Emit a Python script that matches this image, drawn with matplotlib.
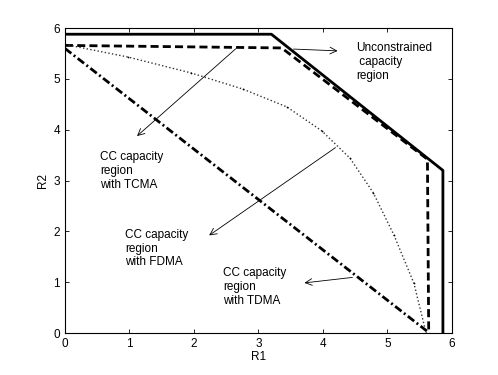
import matplotlib
matplotlib.use("Agg")
import matplotlib.pyplot as plt

plt.rcParams['font.family'] = ['Liberation Sans', 'DejaVu Sans']

# region boundaries
unc_r1 = [0, 3.2, 5.86, 5.86]
unc_r2 = [5.88, 5.88, 3.2, 0]

tcma_r1 = [0, 3.36, 5.62, 5.64]
tcma_r2 = [5.66, 5.61, 3.42, 0]

fdma_r1 = [0, 0.98, 1.95, 2.76, 3.44, 3.98, 4.42, 4.78, 5.1, 5.41, 5.6]
fdma_r2 = [5.68, 5.43, 5.12, 4.80, 4.45, 3.98, 3.44, 2.76, 1.93, 0.98, 0]

tdma_r1 = [0, 5.65]
tdma_r2 = [5.6, 0]

fig = plt.figure(figsize=(4.98, 3.75), dpi=100)
ax = fig.add_axes([0.1305, 0.112, 0.777, 0.813])

ax.plot(unc_r1, unc_r2, '-', color='black', lw=2.0)
ax.plot(tcma_r1, tcma_r2, '--', color='black', lw=2.0, dashes=(2.9, 1.5))
ax.plot(fdma_r1, fdma_r2, ':', color='#333333', lw=1.0,
        marker='.', markersize=2.5, markeredgewidth=0, markerfacecolor='black')
ax.plot(tdma_r1, tdma_r2, '-.', color='black', lw=2.0, dashes=(2.9, 1.1, 0.7, 1.1))

fs = 8.5
arrow = dict(arrowstyle='->', color='black', lw=0.6, mutation_scale=12)

ax.annotate('', xy=(4.27, 5.55), xytext=(3.5, 5.59), arrowprops=arrow)
ax.text(4.51, 5.72, 'Unconstrained\n capacity\nregion', fontsize=fs, va='top', ha='left')

ax.annotate('', xy=(1.085, 3.84), xytext=(2.68, 5.63), arrowprops=arrow)
ax.text(0.54, 3.58, 'CC capacity\nregion\nwith TCMA', fontsize=fs, va='top', ha='left')

ax.annotate('', xy=(2.2, 1.89), xytext=(4.23, 3.68), arrowprops=arrow)
ax.text(0.93, 2.05, 'CC capacity\nregion\nwith FDMA', fontsize=fs, va='top', ha='left')

ax.annotate('', xy=(3.67, 0.98), xytext=(4.5, 1.1), arrowprops=arrow)
ax.text(2.45, 1.3, 'CC capacity\nregion\nwith TDMA', fontsize=fs, va='top', ha='left')

ax.set_xlim(0, 6)
ax.set_ylim(0, 6)
ax.set_xticks(range(7))
ax.set_yticks(range(7))
ax.tick_params(direction='in', top=True, right=True, labelsize=fs, length=3, width=0.6)
for s in ax.spines.values():
    s.set_linewidth(0.8)
ax.set_xlabel('R1', fontsize=fs, labelpad=1)
ax.set_ylabel('R2', fontsize=fs, labelpad=3)

fig.savefig('out.png', dpi=100)
